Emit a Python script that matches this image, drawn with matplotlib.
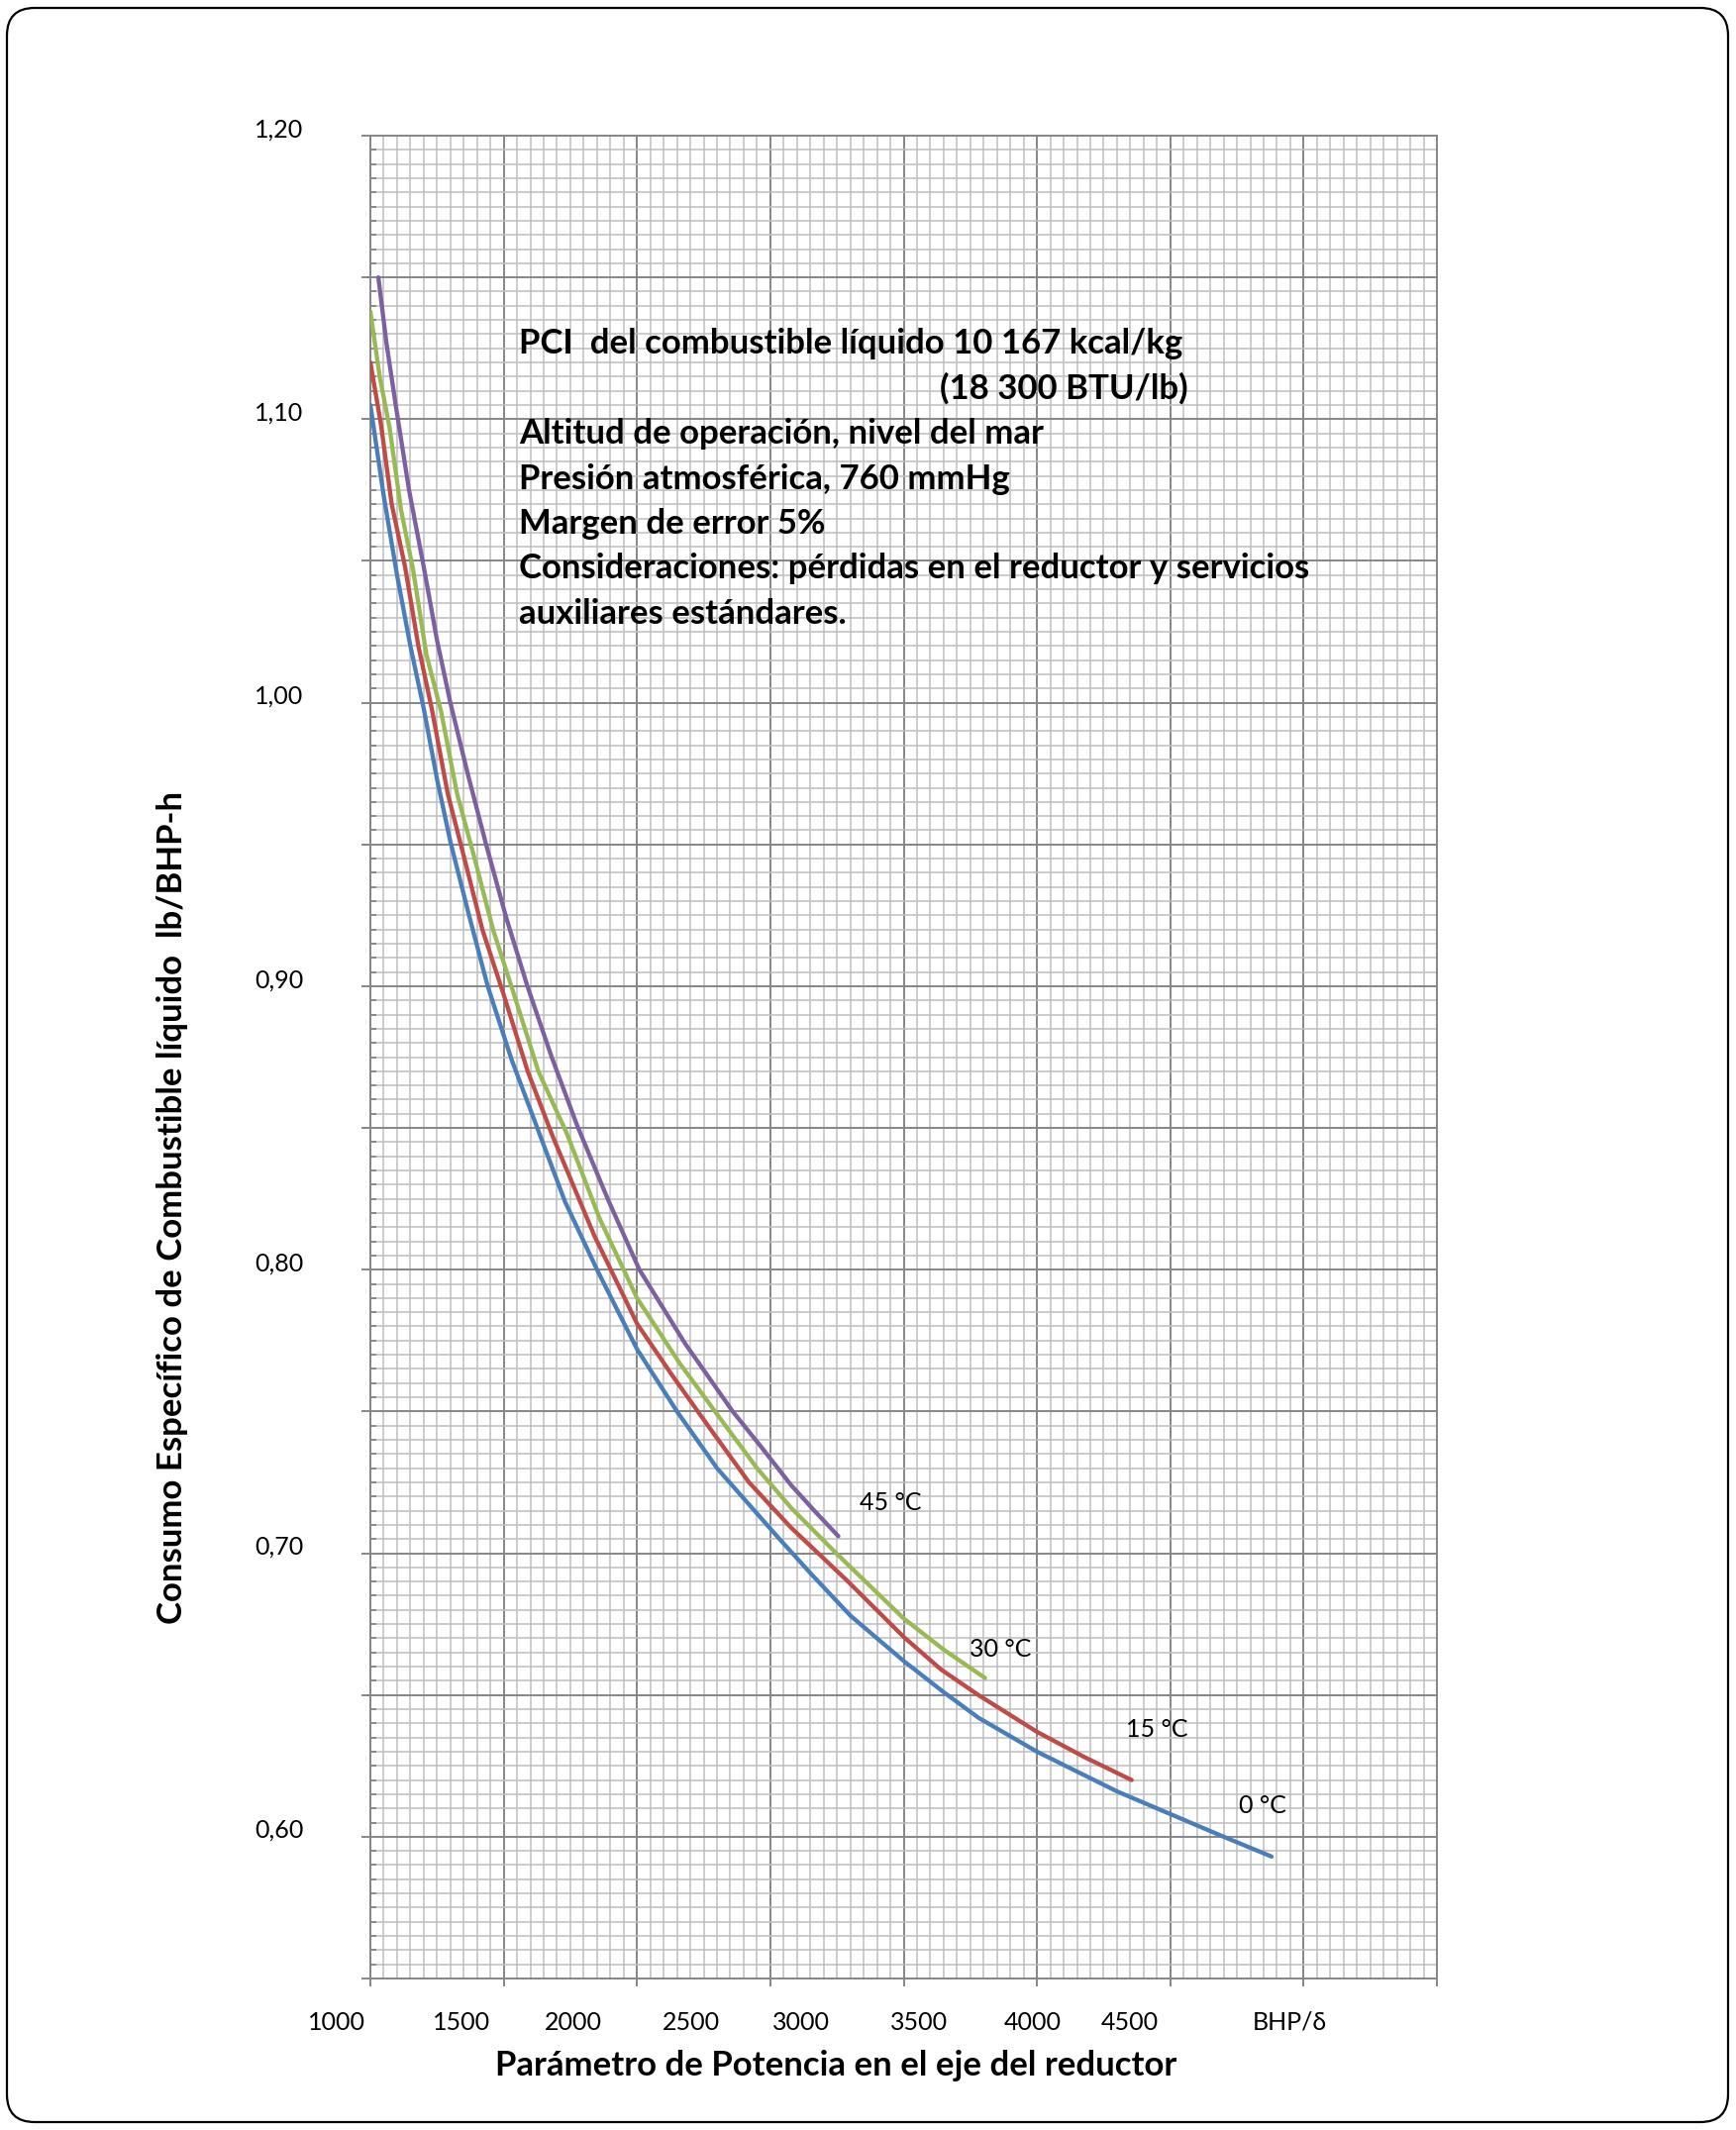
import matplotlib.pyplot as plt
from matplotlib.patches import FancyBboxPatch
from matplotlib.ticker import MultipleLocator, FuncFormatter
from matplotlib.transforms import IdentityTransform, ScaledTranslation

plt.rcParams['font.family'] = ['Lato', 'DejaVu Sans']

# BHP/delta vs specific fuel consumption (lb/BHP-h)
bhp_0 = [1000, 1050, 1100, 1150, 1200, 1250, 1300, 1370, 1440, 1530, 1626, 1730, 1850, 2000,
         2150, 2300, 2525, 2650, 2800, 3000, 3150, 3280, 3500, 3650, 3800, 4000, 4200, 4380]
sfc_0 = [1.105, 1.073, 1.045, 1.020, 0.998, 0.973, 0.951, 0.925, 0.900, 0.874, 0.850, 0.824, 0.800, 0.772,
         0.750, 0.730, 0.706, 0.693, 0.678, 0.662, 0.651, 0.642, 0.630, 0.623, 0.616, 0.608, 0.600, 0.593]

bhp_15 = [1000, 1040, 1080, 1130, 1180, 1230, 1290, 1350, 1420, 1500, 1590, 1684, 1840, 2000,
          2130, 2266, 2420, 2578, 2786, 3000, 3140, 3280, 3500, 3680, 3855]
sfc_15 = [1.120, 1.098, 1.070, 1.048, 1.020, 0.998, 0.968, 0.946, 0.920, 0.897, 0.870, 0.847, 0.812, 0.781,
          0.763, 0.745, 0.725, 0.709, 0.6905, 0.6705, 0.659, 0.650, 0.637, 0.628, 0.620]

bhp_30 = [1000, 1035, 1072, 1115, 1160, 1210, 1265, 1325, 1391, 1460, 1539, 1630, 1737, 1860,
          2000, 2160, 2316, 2450, 2578, 2747, 3000, 3150, 3305]
sfc_30 = [1.138, 1.115, 1.097, 1.068, 1.047, 1.017, 0.997, 0.968, 0.945, 0.920, 0.897, 0.870, 0.848, 0.818,
          0.790, 0.767, 0.747, 0.730, 0.716, 0.700, 0.677, 0.666, 0.656]

bhp_45 = [1030, 1060, 1095, 1145, 1200, 1250, 1300, 1365, 1434, 1510, 1589, 1680, 1775, 1890,
          2009, 2180, 2359, 2470, 2578, 2670, 2755]
sfc_45 = [1.150, 1.127, 1.105, 1.075, 1.048, 1.022, 1.000, 0.975, 0.950, 0.924, 0.900, 0.875, 0.851, 0.825,
          0.800, 0.774, 0.750, 0.737, 0.724, 0.7145, 0.706]

curve_names = ['0 °C', '15 °C', '30 °C', '45 °C']
curve_colors = ['#4A7EBB', '#BE4B48', '#98B954', '#7D60A0']
# where the temperature tags sit (BHP/delta, lb/BHP-h)
tag_x = [4346, 3949, 3362, 2950]
tag_y = [0.611, 0.638, 0.666, 0.718]

# the x tick text was typed in by hand in the original, so it does not sit on the grid
x_tick_text = ['1000', '1500', '2000', '2500', '3000', '3500', '4000', '4500', 'BHP/δ']
x_tick_at = [874, 1342, 1761, 2203, 2616, 3058, 3485, 3849, 4447]

notes = [
    'PCI  del combustible líquido 10 167 kcal/kg',
    '(18 300 BTU/lb)',
    'Altitud de operación, nivel del mar',
    'Presión atmosférica, 760 mmHg',
    'Margen de error 5%',
    'Consideraciones: pérdidas en el reductor y servicios',
    'auxiliares estándares.',
]

W, H = 1753, 2151
fig = plt.figure(figsize=(W / 100, H / 100), dpi=100)
ax = fig.add_axes([374 / W, 1 - 1998 / H, 1077 / W, 1861 / H])

curves = [(bhp_0, sfc_0), (bhp_15, sfc_15), (bhp_30, sfc_30), (bhp_45, sfc_45)]
for (xs, ys), color in zip(curves, curve_colors):
    ax.plot(xs, ys, color=color, lw=3.1, solid_capstyle='round', solid_joinstyle='round', zorder=3)

for name, x, y in zip(curve_names, tag_x, tag_y):
    ax.text(x, y, name, fontsize=18, ha='center', va='center', zorder=4)

ax.set_xlim(1000, 5000)
ax.set_ylim(0.55, 1.20)
ax.xaxis.set_major_locator(MultipleLocator(500))
ax.xaxis.set_minor_locator(MultipleLocator(50))
ax.yaxis.set_major_locator(MultipleLocator(0.05))
ax.yaxis.set_minor_locator(MultipleLocator(0.005))
ax.yaxis.set_major_formatter(FuncFormatter(
    lambda v, _: f'{v:.2f}'.replace('.', ',') if round(v * 100) % 10 == 0 else ''))

ax.grid(which='minor', color='#BEBEBE', lw=1.1)
ax.grid(which='major', color='#868686', lw=1.4)
ax.set_axisbelow(True)
for sp in ax.spines.values():
    sp.set_color('#868686')
    sp.set_linewidth(1.4)

ax.tick_params(axis='y', which='major', direction='out', length=6.7, width=1.4,
               color='#868686', pad=42, labelsize=18)
ax.tick_params(axis='y', which='minor', direction='in', length=4, width=1.2, color='#7F7F7F')
ax.tick_params(axis='x', which='major', direction='out', length=6, width=1.4,
               color='#868686', labelbottom=False)
ax.tick_params(axis='x', which='minor', length=0)

# y labels sit a little above their gridlines in the original
lift = ScaledTranslation(0, 6 / 72, fig.dpi_scale_trans)
for t in ax.get_yticklabels():
    t.set_transform(t.get_transform() + lift)

for lab, x in zip(x_tick_text, x_tick_at):
    ax.annotate(lab, xy=(x, 0), xycoords=('data', 'axes fraction'), xytext=(0, -32),
                textcoords='offset points', ha='center', va='center', fontsize=18,
                annotation_clip=False)

fig.text(844 / W, 1 - 2096 / H, 'Parámetro de Potencia en el eje del reductor',
         fontsize=25, fontweight='bold', ha='center', va='baseline')
fig.text(174 / W, 1 - 1219 / H, 'Consumo Específico de Combustible líquido  lb/BHP-h',
         fontsize=25, fontweight='bold', rotation=90, ha='center', va='center')

for i, line in enumerate(notes):
    base = 357 + i * 45.5
    if i == 1:
        fig.text(1200 / W, 1 - base / H, line, fontsize=25, fontweight='bold', ha='right', va='baseline')
    else:
        fig.text(524 / W, 1 - base / H, line, fontsize=25, fontweight='bold', ha='left', va='baseline')

frame = FancyBboxPatch((7, 8), 1738, 2135, boxstyle='round,pad=0,rounding_size=28',
                       transform=IdentityTransform(), fill=False, ec='black', lw=1.6)
fig.add_artist(frame)

fig.savefig('out.png', dpi=100)
